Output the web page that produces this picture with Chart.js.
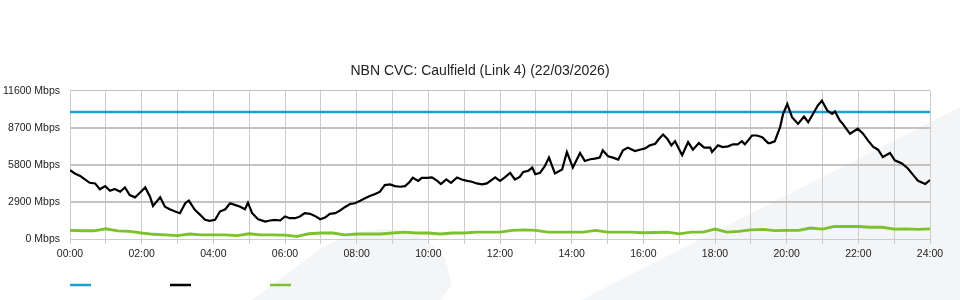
<!DOCTYPE html>
<html>
<head>
<meta charset="utf-8">
<script src="https://cdn.jsdelivr.net/npm/chart.js@4.4.1/dist/chart.umd.min.js"></script>
<style>
  body { margin: 0; background: #fff; }
  #wrap { width: 960px; height: 300px; }
</style>
</head>
<body>
<div id="wrap"><canvas id="chart1" width="960" height="300"></canvas></div>
<script>
// minutes since midnight / Mbps
const capacityTimes = [0, 1440];
const capacityValues = [9950, 9950];

const trafficTimes = [
  0, 8, 17, 25, 33, 42, 50, 59, 67, 75, 84, 92, 100, 109, 117, 126, 134, 139, 151, 159,
  167, 176, 184, 193, 199, 209, 218, 226, 234, 243, 251, 260, 268, 276, 285, 293, 298, 305, 315, 327,
  335, 343, 352, 360, 368, 377, 385, 393, 402, 410, 419, 427, 435, 444, 452, 460, 469, 477, 486, 494,
  502, 511, 519, 527, 536, 544, 553, 561, 569, 574, 583, 589, 598, 606, 615, 621, 630, 638, 648, 656,
  665, 673, 681, 690, 698,
  712, 720, 728, 737, 745, 753, 759, 767, 774, 779, 787, 795, 802, 812, 824, 832, 842, 854, 862, 871,
  879, 887, 892, 901, 909, 918, 926, 934,
  938, 946, 954, 963, 971, 980, 985, 993, 1000, 1007, 1013, 1018, 1025, 1035, 1043, 1053, 1062, 1072, 1075, 1085,
  1093, 1102, 1110, 1118, 1125, 1130, 1142, 1150, 1159, 1169,
  1172, 1180, 1189, 1194, 1201, 1209, 1219, 1229, 1236, 1244, 1252, 1259, 1268, 1276, 1281, 1289, 1294, 1306, 1319, 1328,
  1336, 1345, 1353, 1361, 1373, 1381, 1393, 1403, 1412, 1420, 1432, 1440
];
const trafficValues = [
  5390, 5130, 4940, 4660, 4400, 4350, 3890, 4140, 3780, 3910, 3700, 4040, 3440, 3260, 3620, 4040, 3310, 2590, 3260, 2530,
  2330, 2150, 2020, 2800, 3000, 2280, 1890, 1500, 1420, 1500, 2150, 2330, 2800, 2670, 2530, 2330, 2840, 2020, 1550, 1370,
  1450, 1500, 1450, 1760, 1630, 1630, 1760, 2020, 1970, 1810, 1550, 1680, 1970, 2020, 2220, 2490, 2740, 2800, 3000, 3190,
  3360, 3520, 3700, 4220, 4270, 4140, 4090, 4140, 4480, 4790, 4550, 4790, 4790, 4820, 4550, 4300, 4660, 4400, 4820, 4660,
  4550, 4480, 4350, 4270, 4350,
  4820, 4550, 4820, 5180, 4660, 4860, 5250, 5330, 5590, 5070, 5180, 5700, 6370, 5130, 5440, 6810, 5590, 6730, 6110, 6240,
  6290, 6370, 6940, 6470, 6370, 6220, 6940, 7150,
  7070, 6880, 6990, 7090, 7330, 7460, 7770, 8180, 7850, 7330, 7660, 7200, 6550, 7580, 6990, 7510, 7150, 7150, 6810, 7330,
  7200, 7250, 7410, 7410, 7660, 7410, 8100, 8100, 7970, 7510,
  7510, 7640, 8750, 9790, 10570, 9530, 9010, 9580, 9140, 9790, 10440, 10820, 10050, 9790, 9990, 9270, 9010, 8240, 8630, 8240,
  7720, 7200, 6990, 6420, 6730, 6160, 5910, 5520, 5000, 4550, 4300, 4610
];

const uploadTimes = [
  0, 20, 40, 60, 80, 100, 120, 140, 160, 180, 200, 220, 240, 260, 280, 300, 320, 340, 360, 380,
  400, 420, 440, 460, 480, 500, 520, 540, 560, 580, 600, 620, 640, 660, 680, 700, 720, 740, 760, 780,
  800, 820, 840, 860, 880, 900, 920, 940, 960, 980, 1000, 1020, 1040, 1060, 1080, 1100, 1120, 1140, 1160, 1180,
  1200, 1220, 1240, 1260, 1280, 1300, 1320, 1340, 1360, 1380, 1400, 1420, 1440
];
const uploadValues = [
  670, 645, 645, 800, 640, 600, 470, 370, 330, 260, 390, 330, 330, 330, 260, 410, 330, 330, 300, 200,
  410, 470, 470, 330, 390, 390, 390, 470, 540, 470, 470, 390, 470, 470, 540, 540, 540, 670, 720, 670,
  540, 540, 540, 540, 670, 540, 540, 540, 490, 510, 540, 410, 540, 540, 780, 540, 590, 720, 760, 650,
  670, 680, 860, 780, 980, 980, 980, 920, 920, 780, 800, 760, 800
];

const xTickLabels = ['00:00', '02:00', '04:00', '06:00', '08:00', '10:00', '12:00',
  '14:00', '16:00', '18:00', '20:00', '22:00', '24:00'];
const yTicks = [0, 2900, 5800, 8700, 11600];

const toPoints = (t, v) => t.map((m, i) => ({x: m, y: v[i]}));

const FONT = '"Liberation Sans", Arial, sans-serif';

const watermark = {
  id: 'watermark',
  beforeDraw(chart) {
    const c = chart.ctx;
    c.save();
    c.fillStyle = '#f4f5f7';
    c.beginPath();
    c.moveTo(252, 300);
    c.lineTo(320, 249);
    c.quadraticCurveTo(400, 205, 445, 258);
    c.lineTo(452, 285);
    c.lineTo(440, 300);
    c.closePath();
    c.fill();
    c.beginPath();
    c.moveTo(581, 300);
    c.lineTo(960, 107);
    c.lineTo(960, 300);
    c.closePath();
    c.fill();
    c.restore();
  }
};

const legendLines = {
  id: 'legendLines',
  afterDraw(chart) {
    const c = chart.ctx;
    const left = chart.chartArea.left;
    c.save();
    chart.data.datasets.forEach((ds, i) => {
      c.strokeStyle = ds.borderColor;
      c.lineWidth = 2.5;
      c.beginPath();
      c.moveTo(left + i * 100, 285);
      c.lineTo(left + i * 100 + 21, 285);
      c.stroke();
    });
    c.restore();
  }
};

const ctx1 = document.getElementById('chart1').getContext('2d');

new Chart(ctx1, {
  type: 'line',
  data: {
    datasets: [
      {label: 'Capacity', data: toPoints(capacityTimes, capacityValues), borderColor: '#1c9fd9',
        borderWidth: 2.5, pointRadius: 0, order: 2},
      {label: 'Download', data: toPoints(trafficTimes, trafficValues), borderColor: '#000000',
        borderWidth: 2.2, pointRadius: 0, order: 0},
      {label: 'Upload', data: toPoints(uploadTimes, uploadValues), borderColor: '#7cc22c',
        backgroundColor: '#7cc22c', borderWidth: 2.8, pointRadius: 1, pointBorderWidth: 0, order: 1}
    ]
  },
  options: {
    responsive: false,
    devicePixelRatio: 1,
    animation: false,
    layout: {padding: 0},
    elements: {line: {tension: 0}},
    plugins: {
      legend: {display: false},
      tooltip: {enabled: false},
      title: {
        display: true,
        text: 'NBN CVC: Caulfield (Link 4) (22/03/2026)',
        color: '#222',
        font: {family: FONT, size: 14, weight: 'normal'},
        padding: {top: 63, bottom: 11}
      }
    },
    scales: {
      x: {
        type: 'linear',
        min: 0,
        max: 1440,
        afterFit: s => { s.height = 61; },
        grid: {color: '#cccccc', lineWidth: 1, tickLength: 5},
        border: {color: '#cccccc'},
        ticks: {
          stepSize: 60,
          autoSkip: false,
          maxRotation: 0,
          padding: 4,
          color: '#222',
          font: {family: FONT, size: 10.5},
          callback: v => (v % 120 === 0 ? xTickLabels[v / 120] : '')
        }
      },
      y: {
        min: 0,
        max: 11600,
        afterFit: s => { s.width = 70; },
        afterBuildTicks: s => { s.ticks = yTicks.map(v => ({value: v})); },
        grid: {
          color: '#c2c2c2',
          lineWidth: c => (c.index === 0 || c.index === yTicks.length - 1 ? 1 : 2),
          drawTicks: false
        },
        border: {color: '#cccccc'},
        ticks: {
          padding: 10,
          color: '#222',
          font: {family: FONT, size: 10.5},
          callback: v => v + ' Mbps'
        }
      },
      // empty right-hand spacer so the title stays centred on the full width
      yRight: {
        position: 'right',
        min: 0,
        max: 11600,
        afterFit: s => { s.width = 30; },
        grid: {display: false, drawOnChartArea: false},
        border: {display: false},
        ticks: {display: false}
      }
    }
  },
  plugins: [watermark, legendLines]
});
</script>
</body>
</html>
